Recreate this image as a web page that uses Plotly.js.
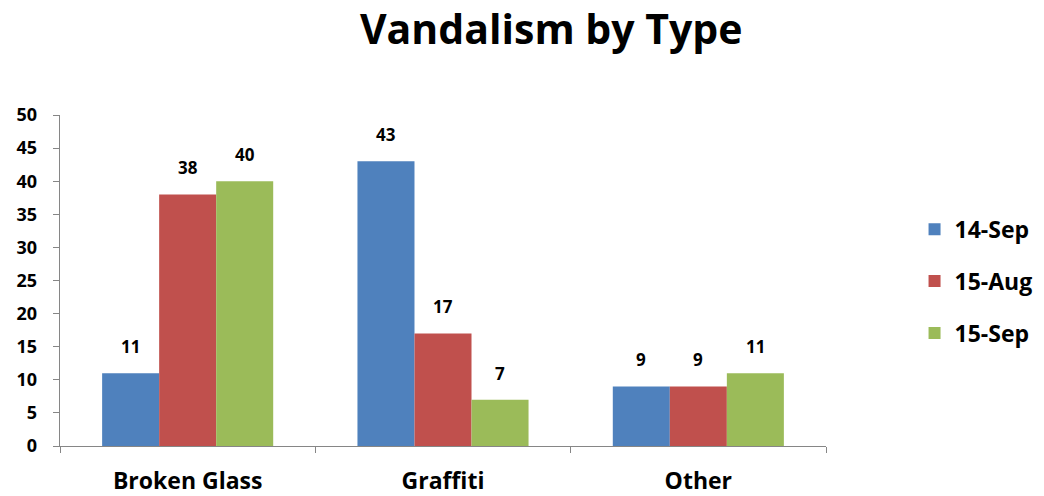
<!DOCTYPE html>
<html><head><meta charset="utf-8">
<script src="https://cdn.plot.ly/plotly-3.0.1.min.js"></script>
<style>body{margin:0;background:#fff}#chart{width:1044px;height:496px}</style>
</head><body><div id="chart"></div>
<script>
const categories = ["Broken Glass", "Graffiti", "Other"];
const seriesNames = ["14-Sep", "15-Aug", "15-Sep"];
const sep14 = [11, 43, 9];
const aug15 = [38, 17, 9];
const sep15 = [40, 7, 11];
const yTicks = [0, 5, 10, 15, 20, 25, 30, 35, 40, 45, 50];
const colors = ["#4F81BD", "#C0504D", "#9BBB59"];
const FONT = "Open Sans, Noto Sans, sans-serif";

const values = [sep14, aug15, sep15];
const traces = values.map((v, i) => ({
  type: "bar", name: seriesNames[i], x: categories, y: v,
  legendgroup: "g" + i,
  marker: {color: colors[i], line: {width: 0}}
}));

// data labels placed via the library's axes, offset per series within the group
const barPx = 57;
const annotations = [];
values.forEach((v, i) => {
  v.forEach((val, j) => {
    annotations.push({
      x: categories[j], y: val, xref: "x", yref: "y",
      text: "<b>" + val + "</b>", showarrow: false,
      xanchor: "center", yanchor: "bottom",
      xshift: (i - 1) * barPx, yshift: 13,
      font: {family: FONT, size: 17, color: "#000"}
    });
  });
});

const layout = {
  width: 1044, height: 496,
  margin: {l: 60, r: 218, t: 115, b: 50, autoexpand: false},
  paper_bgcolor: "#fff", plot_bgcolor: "#fff",
  title: {text: "<b>Vandalism by Type</b>", font: {family: FONT, size: 41, color: "#000"},
          x: 0.528, xanchor: "center", y: 0.94, yanchor: "middle"},
  barmode: "group", bargap: 0.33, bargroupgap: 0,
  showlegend: true,
  legend: {x: 0.876, xanchor: "left", xref: "container", y: 0.433, yref: "container", yanchor: "middle",
           font: {family: FONT, size: 23, color: "#000", weight: "bold"},
           tracegroupgap: 19, itemsizing: "constant"},
  annotations: annotations,
  xaxis: {showline: true, linecolor: "#868686", linewidth: 1.3, ticks: "outside",
          tickson: "boundaries", ticklen: 6, tickcolor: "#868686",
          ticklabelstandoff: 14,
          tickfont: {family: FONT, size: 23, color: "#000", weight: "bold"},
          showgrid: false, zeroline: false, fixedrange: true, automargin: false},
  yaxis: {range: [0, 50], tickvals: yTicks, ticktext: yTicks.map(String),
          showline: true, linecolor: "#868686", linewidth: 1.3, ticks: "outside",
          ticklen: 6, tickcolor: "#868686", ticklabelstandoff: 12,
          tickfont: {family: FONT, size: 18, color: "#000", weight: "bold"},
          showgrid: false, zeroline: false, fixedrange: true, automargin: false}
};
Plotly.newPlot("chart", traces, layout, {displayModeBar: false, staticPlot: true});
</script></body></html>
